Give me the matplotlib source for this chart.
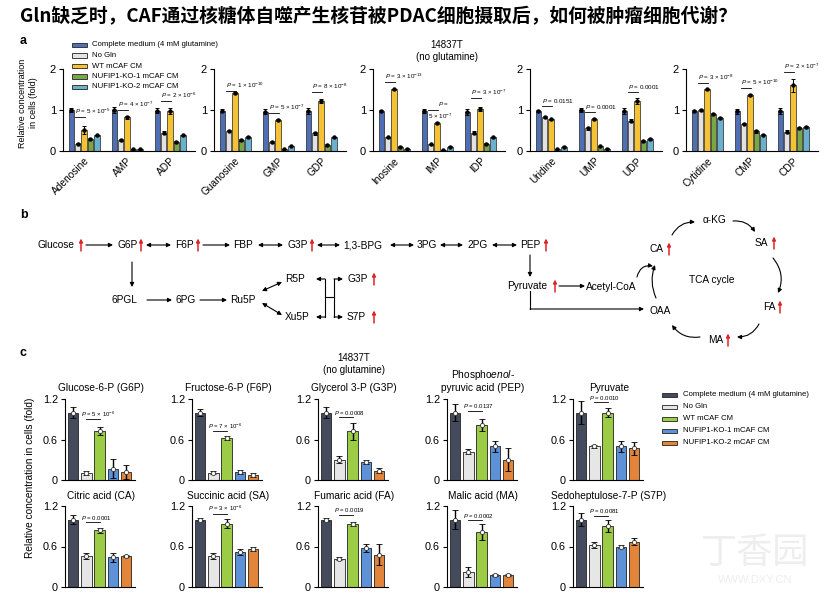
import numpy as np
import matplotlib.pyplot as plt
from matplotlib.patches import Rectangle

plt.rcParams['font.family'] = ['Liberation Sans', 'Noto Sans CJK SC', 'DejaVu Sans']
plt.rcParams['mathtext.fontset'] = 'custom'
plt.rcParams['mathtext.rm'] = 'Liberation Sans'
plt.rcParams['mathtext.it'] = 'Liberation Sans:italic'
plt.rcParams['axes.linewidth'] = 0.8

# ---------------- panel a data ----------------
a_groups = [['Adenosine', 'AMP', 'ADP'], ['Guanosine', 'GMP', 'GDP'],
            ['Inosine', 'IMP', 'IDP'], ['Uridine', 'UMP', 'UDP'],
            ['Cytidine', 'CMP', 'CDP']]
a_labels = ['Complete medium (4 mM glutamine)', 'No Gln', 'WT mCAF CM',
            'NUFIP1-KO-1 mCAF CM', 'NUFIP1-KO-2 mCAF CM']
a_complete = [1.0, 1.0, 0.98, 0.98, 0.96, 0.97, 0.98, 0.98, 0.95, 0.98, 1.0, 0.98, 0.98, 0.97, 0.97]
a_nogln = [0.18, 0.27, 0.45, 0.5, 0.22, 0.43, 0.33, 0.16, 0.45, 0.83, 0.55, 0.74, 1.0, 0.67, 0.47]
a_wt = [0.52, 0.82, 0.97, 1.42, 0.75, 1.22, 1.5, 0.68, 1.02, 0.77, 0.78, 1.22, 1.5, 1.37, 1.6]
a_ko1 = [0.3, 0.04, 0.22, 0.27, 0.05, 0.15, 0.1, 0.02, 0.18, 0.05, 0.12, 0.24, 0.9, 0.48, 0.56]
a_ko2 = [0.38, 0.04, 0.38, 0.34, 0.12, 0.33, 0.06, 0.1, 0.33, 0.1, 0.06, 0.3, 0.8, 0.4, 0.58]
a_complete_err = [0.04, 0.08, 0.06, 0.04, 0.06, 0.07, 0.02, 0.05, 0.08, 0.03, 0.06, 0.07, 0.03, 0.06, 0.07]
a_nogln_err = [0.02, 0.02, 0.04, 0.02, 0.02, 0.03, 0.02, 0.02, 0.03, 0.03, 0.03, 0.04, 0.02, 0.01, 0.04]
a_wt_err = [0.1, 0.03, 0.07, 0.03, 0.03, 0.06, 0.02, 0.02, 0.05, 0.02, 0.02, 0.08, 0.02, 0.03, 0.15]
a_ko1_err = [0.02, 0.01, 0.02, 0.02, 0.01, 0.02, 0.01, 0.01, 0.02, 0.01, 0.01, 0.02, 0.02, 0.03, 0.02]
a_ko2_err = [0.02, 0.01, 0.02, 0.02, 0.01, 0.02, 0.01, 0.01, 0.01, 0.01, 0.01, 0.02, 0.03, 0.02, 0.02]
a_pvals = [r'$P$ = 5 × 10$^{-5}$', r'$P$ = 4 × 10$^{-7}$', r'$P$ = 2 × 10$^{-6}$',
           r'$P$ = 1 × 10$^{-10}$', r'$P$ = 5 × 10$^{-7}$', r'$P$ = 8 × 10$^{-8}$',
           r'$P$ = 3 × 10$^{-13}$', r'$P$ =|5 × 10$^{-7}$', r'$P$ = 3 × 10$^{-7}$',
           r'$P$ = 0.0151', r'$P$ = 0.0001', r'$P$ = 0.0001',
           r'$P$ = 3 × 10$^{-8}$', r'$P$ = 5 × 10$^{-10}$', r'$P$ = 2 × 10$^{-7}$']
a_pline = [0.83, 1.0, 1.22, 1.46, 0.93, 1.44, 1.68, 1.0, 1.29, 1.1, 0.95, 1.44, 1.65, 1.53, 1.93]
a_colors = ['#4F6FB5', '#E2E2E2', '#F4C232', '#79A647', '#6BB0CC']

# ---------------- panel c data ----------------
c_titles = ['Glucose-6-P (G6P)', 'Fructose-6-P (F6P)', 'Glycerol 3-P (G3P)',
            'Phospho$\\it{enol}$-\npyruvic acid (PEP)', 'Pyruvate',
            'Citric acid (CA)', 'Succinic acid (SA)', 'Fumaric acid (FA)',
            'Malic acid (MA)', 'Sedoheptulose-7-P (S7P)']
c_complete = [1.0, 1.0, 1.0, 1.0, 1.0, 1.0, 1.0, 1.0, 1.0, 1.0]
c_nogln = [0.1, 0.11, 0.3, 0.42, 0.5, 0.46, 0.46, 0.42, 0.22, 0.62]
c_wt = [0.72, 0.62, 0.72, 0.82, 1.0, 0.84, 0.94, 0.93, 0.82, 0.9]
c_ko1 = [0.17, 0.12, 0.27, 0.5, 0.5, 0.44, 0.52, 0.58, 0.18, 0.6]
c_ko2 = [0.12, 0.08, 0.14, 0.3, 0.47, 0.46, 0.57, 0.48, 0.18, 0.67]
c_complete_err = [0.08, 0.05, 0.08, 0.13, 0.17, 0.07, 0.02, 0.02, 0.14, 0.1]
c_nogln_err = [0.03, 0.02, 0.05, 0.04, 0.02, 0.05, 0.04, 0.02, 0.07, 0.04]
c_wt_err = [0.06, 0.03, 0.12, 0.09, 0.07, 0.04, 0.07, 0.03, 0.12, 0.09]
c_ko1_err = [0.14, 0.03, 0.03, 0.08, 0.08, 0.07, 0.04, 0.06, 0.02, 0.02]
c_ko2_err = [0.1, 0.03, 0.04, 0.17, 0.1, 0.02, 0.03, 0.15, 0.02, 0.05]
c_pvals = [r'$P$ = 5 × 10$^{-6}$', r'$P$ = 7 × 10$^{-6}$', r'$P$ = 0.0008', r'$P$ = 0.0137',
           r'$P$ = 0.0010', r'$P$ = 0.0001', r'$P$ = 3 × 10$^{-6}$', r'$P$ = 0.0019',
           r'$P$ = 0.0002', r'$P$ = 0.0081']
c_pline = [0.9, 0.72, 0.93, 1.02, 1.15, 0.96, 1.08, 1.07, 0.99, 1.05]
c_labels = ['Complete medium (4 mM glutamine)', 'No Gln', 'WT mCAF CM',
            'NUFIP1-KO-1 mCAF CM', 'NUFIP1-KO-2 mCAF CM']
c_colors = ['#434B5D', '#E6E6E6', '#9CCB46', '#5E92D8', '#E2843A']

W, H = 835, 602
fig = plt.figure(figsize=(W / 100, H / 100), dpi=100)


def px_axes(x0, y_top, x1, y_bot):
    return fig.add_axes([x0 / W, 1 - y_bot / H, (x1 - x0) / W, (y_bot - y_top) / H])


ov = px_axes(0, 0, W, H)
ov.set_xlim(0, W)
ov.set_ylim(H, 0)
ov.axis('off')

ov.text(20, 17, 'Gln缺乏时，CAF通过核糖体自噬产生核苷被PDAC细胞摄取后，如何被肿瘤细胞代谢？',
        fontsize=13.5, fontweight='bold', va='center', ha='left',
        family=['Noto Sans CJK SC', 'DejaVu Sans'])
for lab, (x, y) in zip('abc', [(20, 41), (20, 215), (20, 353)]):
    ov.text(x, y, lab, fontsize=9, fontweight='bold', va='center')


def style_axes(ax, top, ticks, ticklabels, fs):
    ax.patch.set_visible(False)
    for s in ['top', 'right']:
        ax.spines[s].set_visible(False)
    ax.spines['left'].set_bounds(0, top)
    ax.set_yticks(ticks)
    ax.set_yticklabels(ticklabels)
    ax.tick_params(axis='y', length=3, width=0.8, labelsize=fs, pad=2)
    ax.tick_params(axis='x', length=0)


# ---------------- panel a ----------------
a_series = [a_complete, a_nogln, a_wt, a_ko1, a_ko2]
a_errs = [a_complete_err, a_nogln_err, a_wt_err, a_ko1_err, a_ko2_err]
a_lefts = [63, 214, 373, 530, 686]
step, bw = 0.148, 0.13
for g in range(5):
    ax = px_axes(a_lefts[g], 151 - 2.1 * 41, a_lefts[g] + 132, 151)
    ax.set_ylim(0, 2.1)
    ax.set_xlim(-0.49, 2.58)
    idx = slice(3 * g, 3 * g + 3)
    for k in range(5):
        xs = np.arange(3) + (k - 2) * step
        ax.bar(xs, a_series[k][idx], bw, color=a_colors[k], edgecolor='#222222', lw=0.5)
        ax.errorbar(xs, a_series[k][idx], yerr=a_errs[k][idx], fmt='o', ms=2.2, color='k',
                    elinewidth=0.7, capsize=1.5, capthick=0.7)
    style_axes(ax, 2, [0, 1, 2], ['0', '1', '2'], 8)
    ax.set_xticks(range(3))
    ax.set_xticklabels(a_groups[g], rotation=45, ha='right', rotation_mode='anchor', fontsize=7.3)
    for j in range(3):
        n = 3 * g + j
        x0, x1 = j - step - 0.07, j + 0.03
        y = a_pline[n]
        ax.plot([x0, x1], [y, y], color='k', lw=0.6)
        if '|' in a_pvals[n]:
            top_s, bot_s = a_pvals[n].split('|')
            ax.text(x1, y + 0.05, top_s, fontsize=4.5, va='bottom', ha='left')
            ax.text(x0, y - 0.05, bot_s, fontsize=4.5, va='top', ha='left')
        else:
            ax.text(x0, y + 0.03, a_pvals[n], fontsize=4.5, va='bottom', ha='left')

ov.text(28, 103, 'Relative concentration\nin cells (fold)', rotation=90, fontsize=6.5,
        ha='center', va='center', linespacing=1.2)
ov.text(447, 51, '14837T\n(no glutamine)', fontsize=7, ha='center', va='center', linespacing=1.3)
for k, (lab, col) in enumerate(zip(a_labels, a_colors)):
    y = 45 + k * 10.5
    ov.add_patch(Rectangle((72, y - 2.3), 15, 4.6, facecolor=col, edgecolor='#222222', lw=0.6))
    ov.text(92, y, lab, fontsize=5.6, va='center')

# ---------------- panel b (pathway) ----------------
RED = '#E02424'


def txt(x, y, s, **kw):
    ov.text(x, y, s, fontsize=7.3, ha='left', va='center', **kw)


def arr(x0, y0, x1, y1, style='-|>', rad=0.0):
    ov.annotate('', xy=(x1, y1), xytext=(x0, y0),
                arrowprops=dict(arrowstyle=style, color='k', lw=0.8, mutation_scale=6,
                                shrinkA=0, shrinkB=0, connectionstyle=f'arc3,rad={rad}'))


def up(x, y):
    ov.annotate('', xy=(x, y - 6.5), xytext=(x, y + 6),
                arrowprops=dict(arrowstyle='-|>', color=RED, lw=1.1, mutation_scale=5,
                                shrinkA=0, shrinkB=0))


ry = 245
txt(37, ry, 'Glucose'); up(81, ry); arr(86, ry, 113, ry)
txt(117, ry, 'G6P'); up(141, ry); arr(146, ry, 171, ry, '<|-|>')
txt(175, ry, 'F6P'); up(198, ry); arr(203, ry, 230, ry)
txt(233, ry, 'FBP'); arr(258, ry, 283, ry, '<|-|>')
txt(287, ry, 'G3P'); up(312, ry); arr(317, ry, 340, ry, '<|-|>')
txt(343, ry, '1,3-BPG'); arr(390, ry, 414, ry, '<|-|>')
txt(417, ry, '3PG'); arr(440, ry, 463, ry, '<|-|>')
txt(467, ry, '2PG'); arr(492, ry, 517, ry, '<|-|>')
txt(520, ry, 'PEP'); up(546, ry)

arr(132, 262, 132, 287)
txt(112, 300, '6PGL'); arr(147, 300, 172, 300)
txt(175, 300, '6PG'); arr(200, 300, 227, 300)
txt(230, 300, 'Ru5P')
arr(262, 291, 282, 282, '<|-|>')
arr(262, 303, 282, 315, '<|-|>')
txt(285, 279, 'R5P'); txt(285, 317, 'Xu5P')
ov.plot([325, 325], [279, 317], color='k', lw=0.8)
ov.plot([334, 334], [279, 317], color='k', lw=0.8)
ov.plot([325, 334], [297, 297], color='k', lw=0.8)
arr(325, 279, 316, 279); arr(325, 317, 316, 317)
arr(334, 279, 343, 279); arr(334, 317, 343, 317)
txt(347, 279, 'G3P'); up(374, 279)
txt(347, 317, 'S7P'); up(374, 317)

arr(530, 255, 530, 277)
txt(507, 286, 'Pyruvate'); up(555, 286); arr(559, 286, 585, 286)
txt(586, 287, 'Acetyl-CoA')
ov.plot([530, 530], [291, 309], color='k', lw=0.8)
arr(530, 309, 644, 309)
txt(649, 311, 'OAA')
txt(650, 249, 'CA'); up(669, 249)
txt(703, 220, 'α-KG')
txt(755, 243, 'SA'); up(774, 243)
txt(689, 280, 'TCA cycle')
txt(763, 307, 'FA'); up(780, 307)
txt(708, 340, 'MA'); up(728, 340)
arr(672, 235, 695, 222, rad=-0.3)
arr(733, 221, 755, 232, rad=-0.3)
arr(773, 258, 778, 293, rad=-0.3)
arr(759, 324, 737, 337, rad=-0.3)
arr(700, 337, 672, 325, rad=-0.3)
arr(656, 298, 655, 265, rad=-0.2)
arr(637, 277, 653, 266, rad=-0.45)

# ---------------- panel c ----------------
c_series = [c_complete, c_nogln, c_wt, c_ko1, c_ko2]
c_errs = [c_complete_err, c_nogln_err, c_wt_err, c_ko1_err, c_ko2_err]
c_lefts = [65, 192, 318, 447, 573]
c_bottoms = [480, 587]
cu = 67.5
for i in range(10):
    r, col = divmod(i, 5)
    x0 = c_lefts[col]
    ax = px_axes(x0, c_bottoms[r] - 1.35 * cu, x0 + 70, c_bottoms[r])
    ax.set_ylim(0, 1.35)
    ax.set_xlim(-0.62, 4.68)
    vals = [s[i] for s in c_series]
    errs = [e[i] for e in c_errs]
    ax.bar(range(5), vals, 0.78, color=c_colors, edgecolor='#222222', lw=0.6)
    ax.errorbar(range(5), vals, yerr=errs, fmt='o', ms=3, mfc='white', mec='#333333', mew=0.6,
                color='k', elinewidth=1.0, capsize=2, capthick=0.9)
    style_axes(ax, 1.2, [0, 0.6, 1.2], ['0', '0.6', '1.2'], 7.8)
    ax.set_xticks([])
    y = c_pline[i]
    ax.plot([1, 2], [y, y], color='k', lw=0.6)
    ax.text(0.6, y + 0.01, c_pvals[i], fontsize=4.3, va='bottom', ha='left')
    ty = 393 if r == 0 else 501
    ov.text(x0 + 36, ty, c_titles[i], fontsize=7.3, ha='center', va='bottom', linespacing=1.15)

ov.text(354, 364, '14837T\n(no glutamine)', fontsize=7, ha='center', va='center', linespacing=1.3)
ov.text(30, 478, 'Relative concentration in cells (fold)', rotation=90, fontsize=7.3,
        ha='center', va='center')
for k, (lab, col) in enumerate(zip(c_labels, c_colors)):
    y = 395 + k * 12
    ov.add_patch(Rectangle((662, y - 2.3), 15, 4.6, facecolor=col, edgecolor='#222222', lw=0.6))
    ov.text(683, y, lab, fontsize=5.6, va='center')

# faint watermark
ov.text(755, 553, '丁香园', fontsize=26, color='#EEEEEE', ha='center', va='center',
        family=['Noto Sans CJK SC', 'DejaVu Sans'])
ov.text(755, 580, 'WWW.DXY.CN', fontsize=8, color='#EEEEEE', ha='center', va='center')

fig.savefig('out.png', dpi=100)
